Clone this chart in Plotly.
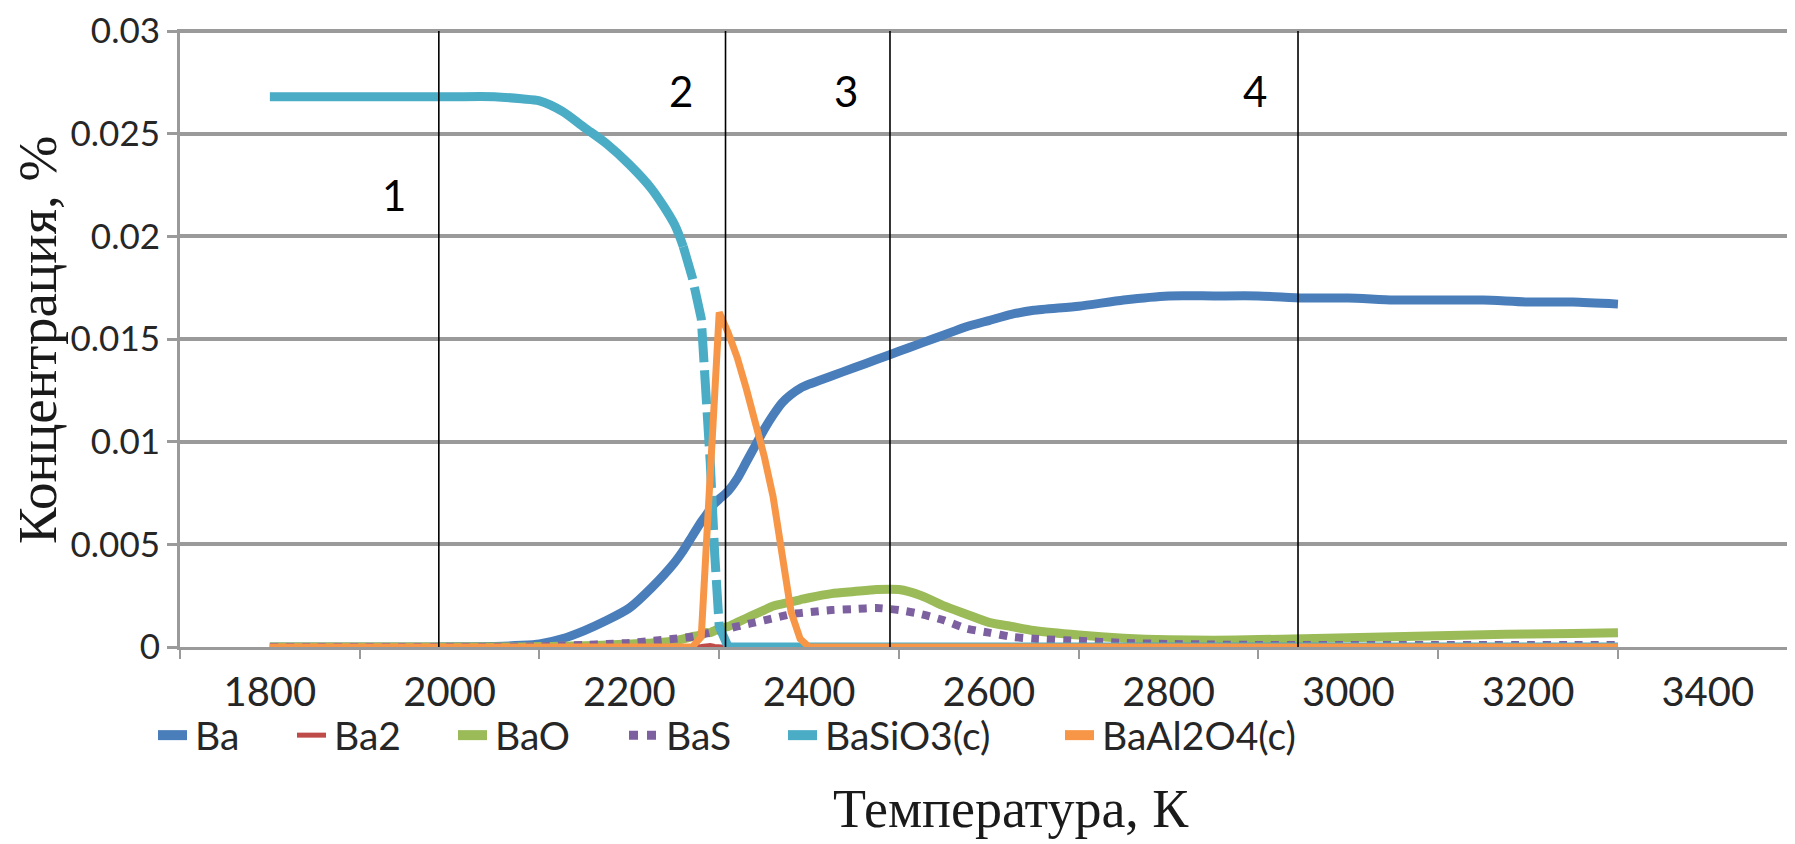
import plotly.graph_objects as go

# ---------------- data ----------------
T = [1800, 1850, 1900, 1950, 2000, 2050, 2080, 2100, 2125, 2150,
     2175, 2200, 2225, 2250, 2260, 2270, 2280, 2285, 2290, 2295,
     2300, 2310, 2320, 2330, 2340, 2350, 2360, 2370, 2380, 2390,
     2400, 2425, 2450, 2475, 2500, 2525, 2550, 2575, 2600, 2625,
     2650, 2700, 2750, 2800, 2850, 2900, 2950, 3000, 3050, 3100,
     3150, 3200, 3250, 3300]

ba = [0.0, 0.0, 0.0, 0.0, 0.00001, 0.00003, 0.00008, 0.00015, 0.0004, 0.0008,
      0.0013, 0.0019, 0.0029, 0.0041, 0.0047, 0.0054, 0.0061, 0.0064, 0.0067, 0.0070,
      0.0072, 0.0076, 0.0082, 0.0090, 0.0098, 0.0106, 0.0113, 0.0119, 0.0123, 0.0126,
      0.0128, 0.0132, 0.0136, 0.0140, 0.0144, 0.0148, 0.0152, 0.0156, 0.0159, 0.0162,
      0.0164, 0.0166, 0.0169, 0.0171, 0.0171, 0.0171, 0.0170, 0.0170, 0.0169, 0.0169,
      0.0169, 0.0168, 0.0168, 0.0167]

ba2 = [0.0, 0.0, 0.0, 0.0, 0.0, 0.0, 0.0, 0.0, 0.0, 0.0,
       0.0, 0.0, 0.0, 0.0, 0.0, 0.00002, 0.00005, 0.0001, 0.0001, 0.00005,
       0.00002, 0.0, 0.0, 0.0, 0.0, 0.0, 0.0, 0.0, 0.0, 0.0,
       0.0, 0.0, 0.0, 0.0, 0.0, 0.0, 0.0, 0.0, 0.0, 0.0,
       0.0, 0.0, 0.0, 0.0, 0.0, 0.0, 0.0, 0.0, 0.0, 0.0,
       0.0, 0.0, 0.0, 0.0]

bao = [0.0, 0.0, 0.0, 0.0, 0.0, 0.0, 0.0, 0.00002, 0.00004, 0.00006,
       0.0001, 0.00015, 0.0002, 0.0003, 0.0004, 0.0005, 0.0006, 0.0007, 0.0007, 0.0008,
       0.0009, 0.0010, 0.0012, 0.0014, 0.0016, 0.0018, 0.0020, 0.0021, 0.0022, 0.0023,
       0.0024, 0.0026, 0.0027, 0.0028, 0.0028, 0.0025, 0.0020, 0.0016, 0.0012, 0.0010,
       0.0008, 0.00058, 0.00043, 0.00035, 0.00033, 0.00036, 0.0004, 0.00045, 0.0005, 0.00055,
       0.0006, 0.00063, 0.00066, 0.0007]

bas = [0.0, 0.0, 0.0, 0.0, 0.0, 0.0, 0.00002, 0.00004, 0.00007, 0.0001,
       0.00015, 0.0002, 0.0003, 0.0004, 0.00045, 0.0005, 0.0006, 0.00065, 0.0007, 0.00075,
       0.0008, 0.0009, 0.0010, 0.0011, 0.0012, 0.0013, 0.0014, 0.0015, 0.0016, 0.00165,
       0.0017, 0.0018, 0.00185, 0.0019, 0.0018, 0.0016, 0.0013, 0.0009, 0.0007, 0.0005,
       0.0004, 0.0003, 0.0002, 0.00015, 0.00012, 0.0001, 0.0001, 0.0001, 0.0001, 0.0001,
       0.0001, 0.0001, 0.0001, 0.0001]

basio3 = [0.0268, 0.0268, 0.0268, 0.0268, 0.0268, 0.0268, 0.0267, 0.0266, 0.0261, 0.0253,
          0.0245, 0.0235, 0.0223, 0.0206, 0.0195, 0.0180, 0.0160, 0.0130, 0.0090, 0.0045,
          0.0010, 0.0, 0.0, 0.0, 0.0, 0.0, 0.0, 0.0, 0.0, 0.0,
          0.0, 0.0, 0.0, 0.0, 0.0, 0.0, 0.0, 0.0, 0.0, 0.0,
          0.0, 0.0, 0.0, 0.0, 0.0, 0.0, 0.0, 0.0, 0.0, 0.0,
          0.0, 0.0, 0.0, 0.0]

baal2o4 = [0.0, 0.0, 0.0, 0.0, 0.0, 0.0, 0.0, 0.0, 0.0, 0.0,
           0.0, 0.0, 0.0, 0.0, 0.0, 0.0, 0.0005, 0.0045, 0.0090, 0.0130,
           0.0163, 0.0153, 0.0141, 0.0126, 0.0110, 0.0093, 0.0073, 0.0046, 0.0017, 0.0004,
           0.0, 0.0, 0.0, 0.0, 0.0, 0.0, 0.0, 0.0, 0.0, 0.0,
           0.0, 0.0, 0.0, 0.0, 0.0, 0.0, 0.0, 0.0, 0.0, 0.0,
           0.0, 0.0, 0.0, 0.0]

series_names = ["Ba", "Ba2", "BaO", "BaS", "BaSiO3(c)", "BaAl2O4(c)"]

x_tick_vals = [1800, 2000, 2200, 2400, 2600, 2800, 3000, 3200, 3400]
x_tick_text = ["1800", "2000", "2200", "2400", "2600", "2800", "3000", "3200", "3400"]
x_minor_vals = [1700, 1900, 2100, 2300, 2500, 2700, 2900, 3100, 3300, 3500]
y_tick_vals = [0, 0.005, 0.01, 0.015, 0.02, 0.025, 0.03]
y_tick_text = ["0", "0.005", "0.01", "0.015", "0.02", "0.025", "0.03"]

region_bounds = [1988, 2307, 2490, 2944]
region_labels = ["1", "2", "3", "4"]
region_label_x = [1938, 2257, 2441, 2896]
region_label_y = [0.0220, 0.0271, 0.0271, 0.0271]

# ---------------- styles ----------------
C_BA, C_BA2, C_BAO, C_BAS, C_SIO, C_AL = "#4A7EBB", "#BE4B48", "#9BBB59", "#7D60A0", "#4BACC6", "#F79646"
TICK_FONT = "Lato, 'Open Sans', sans-serif"
SERIF = "'Liberation Serif', 'DejaVu Serif', serif"
GRID = "#9a9a9a"
TXT = "#262626"

# page body has a default 8px margin: size the figure so it fits the window
OFF = 8
W, H = 1795 - OFF, 844 - OFF
ML, MR, MT, MB = 180 - OFF, 0, 23 - OFF, 197
PW, PH = W - ML - MR, H - MT - MB
Y_BOTTOM = OFF + H - MB          # absolute page y of the plot bottom
X_LEFT = OFF + ML                # absolute page x of the plot left


def px_x(px):
    return (px - X_LEFT) / PW


def px_y(py):
    return (Y_BOTTOM - py) / PH


fig = go.Figure()

fig.add_trace(go.Scatter(x=T, y=ba, mode="lines", name=series_names[0],
                         line=dict(color=C_BA, width=9, shape="spline", smoothing=0.6),
                         showlegend=False))
fig.add_trace(go.Scatter(x=T, y=ba2, mode="lines", name=series_names[1],
                         line=dict(color=C_BA2, width=4), showlegend=False))
fig.add_trace(go.Scatter(x=T, y=bao, mode="lines", name=series_names[2],
                         line=dict(color=C_BAO, width=9, shape="spline", smoothing=0.6),
                         showlegend=False))
fig.add_trace(go.Scatter(x=T, y=bas, mode="lines", name=series_names[3],
                         line=dict(color=C_BAS, width=8, dash="dot", shape="spline", smoothing=0.6),
                         showlegend=False))

i_a = T.index(2260)
i_b = T.index(2310)
fig.add_trace(go.Scatter(x=T[:i_a + 1], y=basio3[:i_a + 1], mode="lines", name=series_names[4],
                         line=dict(color=C_SIO, width=9, shape="spline", smoothing=0.8),
                         showlegend=False))
fig.add_trace(go.Scatter(x=T[i_a:i_b + 1], y=basio3[i_a:i_b + 1], mode="lines", name=series_names[4],
                         line=dict(color=C_SIO, width=9, dash="34px,8px"), showlegend=False))
fig.add_trace(go.Scatter(x=T[i_b:], y=basio3[i_b:], mode="lines", name=series_names[4],
                         line=dict(color=C_SIO, width=9), showlegend=False))

fig.add_trace(go.Scatter(x=T, y=baal2o4, mode="lines", name=series_names[5],
                         line=dict(color=C_AL, width=7), showlegend=False))

shapes = []
for xb in region_bounds:
    shapes.append(dict(type="line", xref="x", yref="y", x0=xb, x1=xb, y0=0, y1=0.03,
                       line=dict(color="black", width=1.6), layer="above"))

# manual legend (Excel style short thick swatches)
leg_colors = [C_BA, C_BA2, C_BAO, C_BAS, C_SIO, C_AL]
leg_widths = [10, 5, 10, 9, 10, 10]
leg_dash = ["solid", "solid", "solid", "dot", "solid", "solid"]
leg_sym_x = [158, 297, 458, 629, 788, 1065]
leg_txt_x = [193, 332, 493, 664, 823, 1100]
LEG_Y = 736
for i in range(6):
    shapes.append(dict(type="line", xref="paper", yref="paper",
                       x0=px_x(leg_sym_x[i]), x1=px_x(leg_sym_x[i] + 29),
                       y0=px_y(LEG_Y), y1=px_y(LEG_Y),
                       line=dict(color=leg_colors[i], width=leg_widths[i], dash=leg_dash[i])))

annotations = []
for i in range(6):
    annotations.append(dict(text=series_names[i], xref="paper", yref="paper",
                            x=px_x(leg_txt_x[i]), y=px_y(LEG_Y), xanchor="left", yanchor="middle",
                            showarrow=False, font=dict(family=TICK_FONT, size=39, color=TXT)))

for lab, lx, ly in zip(region_labels, region_label_x, region_label_y):
    annotations.append(dict(text=lab, xref="x", yref="y", x=lx, y=ly, xanchor="center",
                            yanchor="middle", showarrow=False,
                            font=dict(family=TICK_FONT, size=42, color="black")))

annotations.append(dict(text="Температура, К", xref="paper", yref="paper",
                        x=px_x(1011), y=px_y(811), xanchor="center", yanchor="middle",
                        showarrow=False, font=dict(family=SERIF, size=54, color="#1a1a1a")))
annotations.append(dict(text="Концентрация, %", xref="paper", yref="paper",
                        x=px_x(38), y=px_y(337), xanchor="center", yanchor="middle",
                        textangle=-90, showarrow=False,
                        font=dict(family=SERIF, size=55, color="#1a1a1a")))

fig.update_layout(
    width=W, height=H,
    margin=dict(l=ML, r=MR, t=MT, b=MB, pad=0),
    paper_bgcolor="white", plot_bgcolor="white",
    showlegend=False,
    shapes=shapes, annotations=annotations,
    xaxis=dict(range=[1700, 3497], tickmode="array", tickvals=x_tick_vals, ticktext=x_tick_text,
               ticks="", showgrid=False, zeroline=False,
               showline=True, linecolor=GRID, linewidth=3,
               tickfont=dict(family=TICK_FONT, size=40, color=TXT),
               ticklabelstandoff=8, ticklabeloverflow="allow",
               minor=dict(tickmode="array", tickvals=x_minor_vals, ticks="outside",
                          ticklen=9, tickwidth=2, tickcolor=GRID, showgrid=False)),
    yaxis=dict(range=[0, 0.0301], tickmode="array", tickvals=y_tick_vals, ticktext=y_tick_text,
               ticks="outside", ticklen=10, tickwidth=3, tickcolor=GRID,
               showgrid=True, gridcolor=GRID, gridwidth=3.5, zeroline=False,
               showline=True, linecolor=GRID, linewidth=3, ticklabeloverflow="allow",
               tickfont=dict(family=TICK_FONT, size=35, color=TXT)),
)

fig.write_html("out.html")
